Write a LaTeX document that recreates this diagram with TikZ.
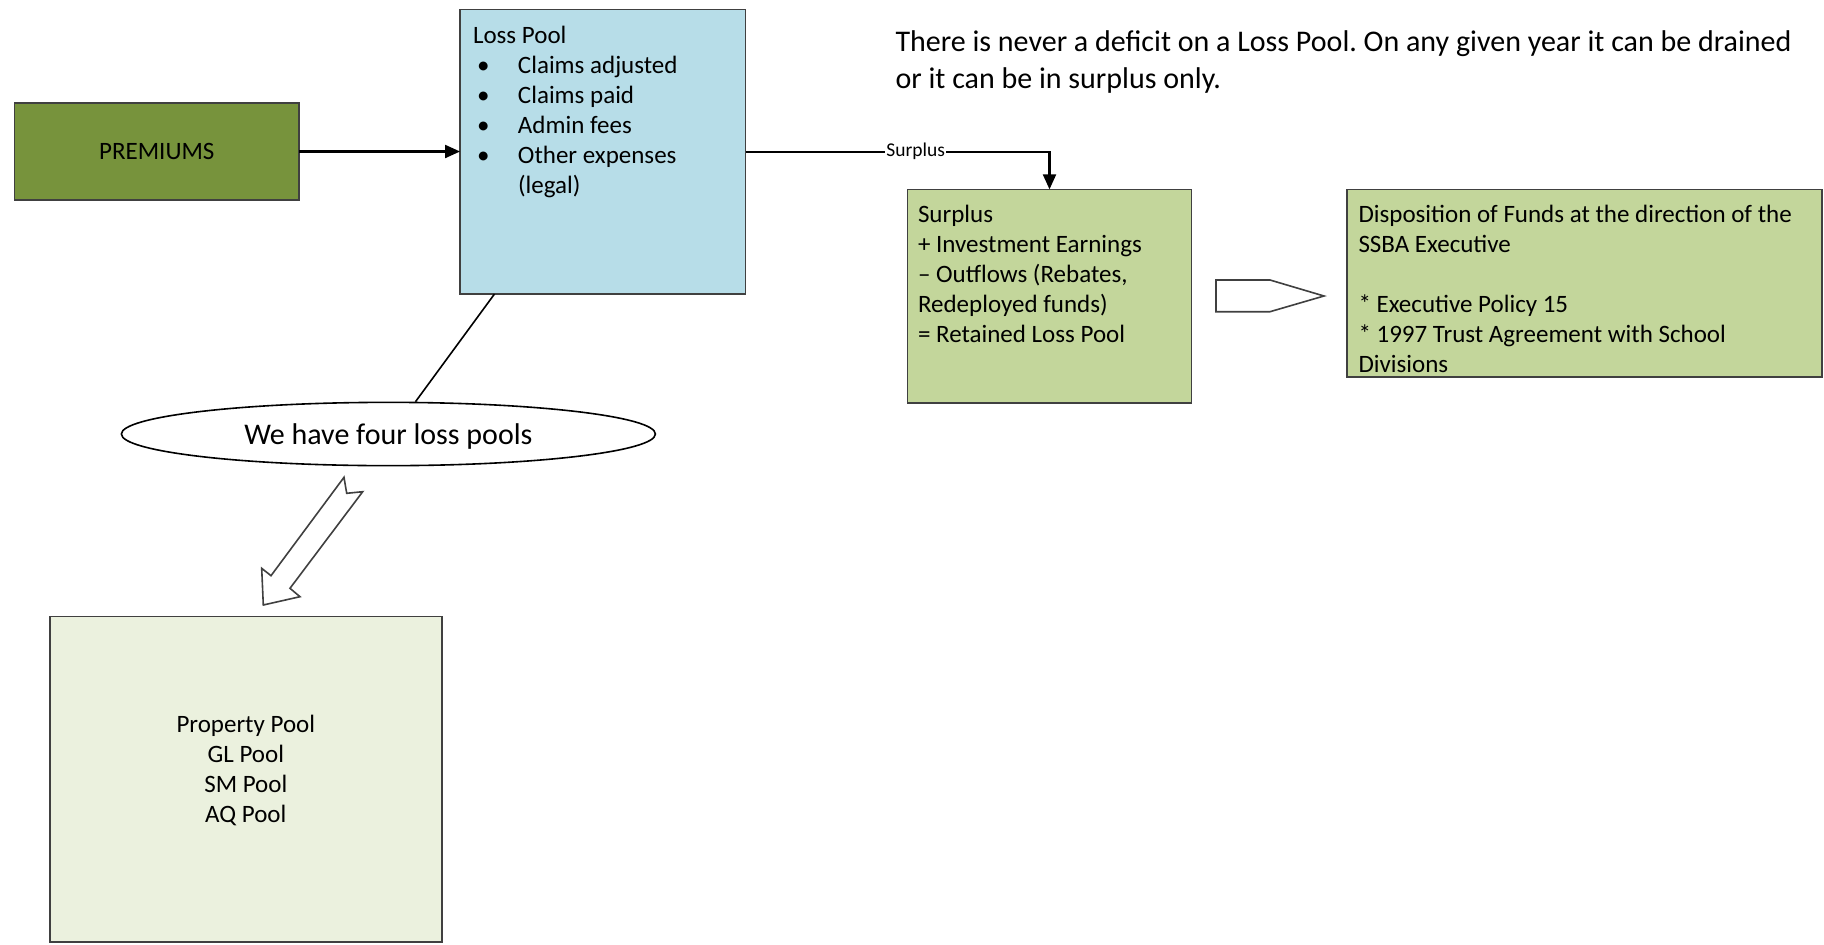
\documentclass[tikz,border=0pt]{standalone}
\usepackage{fontspec}
\setmainfont{Carlito}
\usetikzlibrary{arrows.meta,shapes.geometric}
\definecolor{premgreen}{HTML}{77933C}
\definecolor{poolblue}{HTML}{B7DDE8}
\definecolor{boxgreen}{HTML}{C3D69B}
\definecolor{palegreen}{HTML}{EBF1DE}
\definecolor{bordergray}{HTML}{404040}
\frenchspacing
\begin{document}
\begin{tikzpicture}[x=1bp,y=-1bp,
  box/.style={draw=bordergray, line width=1.6bp, inner sep=0pt, outer sep=0pt},
  txt/.style={inner sep=0pt, outer sep=0pt, align=left, anchor=north west, font=\fontsize{25bp}{30bp}\selectfont},
  conn/.style={draw=black, line width=2.1bp},
  tipped/.style={-{Triangle[length=15bp,width=13bp]}},
  blockarrow/.style={draw=bordergray, line width=1.6bp, fill=white, line join=miter}
]
\useasboundingbox (0,0) rectangle (1824,944);

% boxes
\node[box, fill=premgreen, minimum width=284.5bp, minimum height=97.3bp,
      font=\fontsize{25bp}{30bp}\selectfont] (prem) at (156.8,151.5) {PREMIUMS};
\node[box, fill=poolblue, minimum width=285.5bp, minimum height=284.7bp] (loss) at (602.8,151.7) {};
\node[box, fill=boxgreen, minimum width=284bp, minimum height=213.7bp] (surp) at (1049.5,296.2) {};
\node[box, fill=boxgreen, minimum width=474.7bp, minimum height=187.4bp] (disp) at (1584.4,283.3) {};
\node[box, fill=palegreen, minimum width=391.7bp, minimum height=325.3bp] (pools) at (245.9,779.3) {};
\node[draw=black, line width=1.6bp, ellipse, minimum width=534bp, minimum height=63.3bp, inner sep=0pt] (ell) at (388.4,434) {};

% texts
\node[txt] (losstxt) at (473,21) {\rule{0pt}{22bp}Loss Pool\\
\hspace*{4bp}\makebox[41bp][l]{•}Claims adjusted\\
\hspace*{4bp}\makebox[41bp][l]{•}Claims paid\\
\hspace*{4bp}\makebox[41bp][l]{•}Admin fees\\
\hspace*{4bp}\makebox[41bp][l]{•}Other expenses\\
\hspace*{45bp}(legal)};

\node[txt] (surptxt) at (918,200) {\rule{0pt}{22bp}Surplus\\
+ Investment Earnings\\
– Outflows (Rebates,\\
Redeployed funds)\\
= Retained Loss Pool};

\node[txt] (disptxt) at (1358.5,200) {\rule{0pt}{22bp}Disposition of Funds at the direction of the\\
SSBA Executive\\[30bp]
* Executive Policy 15\\
* 1997 Trust Agreement with School\\
Divisions};

\node[txt, font=\fontsize{30bp}{37bp}\selectfont] (title) at (895.5,25) {\rule{0pt}{26bp}There is never a deficit on a Loss Pool. On any given year it can be drained\\
or it can be in surplus only.};

\node[inner sep=0pt, anchor=base, font=\fontsize{30bp}{36bp}\selectfont] (elltxt) at (388.4,444) {We have four loss pools};

\node[inner sep=0pt, anchor=north, align=center, font=\fontsize{25bp}{30bp}\selectfont] (poolstxt) at (245.8,710) {\rule{0pt}{22bp}Property Pool\\GL Pool\\SM Pool\\AQ Pool};

% connectors
\draw[conn, tipped] (prem.east) -- (prem.east -| loss.west);
\draw[conn, tipped] (loss.east) -| node[pos=0.28, fill=white, inner sep=1bp,
      font=\fontsize{19.5bp}{22bp}\selectfont] (surplbl) {Surplus} (surp.north);
\draw[conn, line width=1.6bp] ([xshift=34.4bp]loss.south west) -- (ell.50);

% block arrows
\draw[blockarrow] (1216,280) -- (1270,280) -- (1324,296) -- (1270,311.7) -- (1216,311.7) -- cycle;
\draw[blockarrow] (344,477.3) -- (346.7,493.3) -- (362.7,491.7) -- (290,588.3) -- (300,596.7)
   -- (263.3,605) -- (261.7,568.3) -- (271,575.7) -- cycle;
\end{tikzpicture}
\end{document}
